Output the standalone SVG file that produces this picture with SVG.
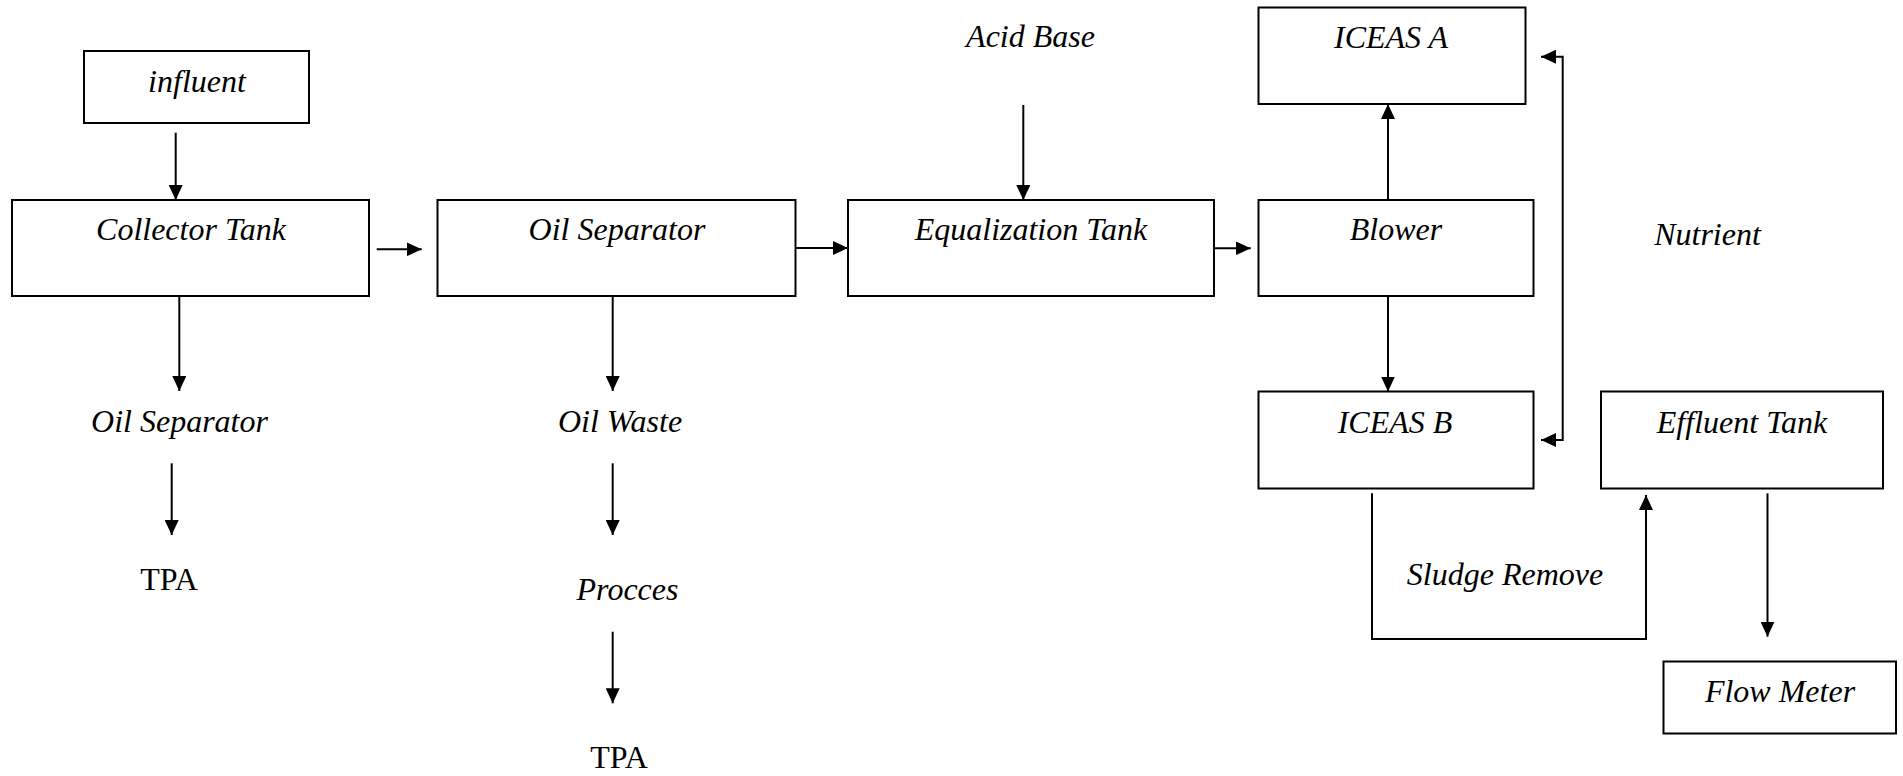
<svg xmlns="http://www.w3.org/2000/svg" width="1903" height="776" viewBox="0 0 1903 776">
  <style>
    .box { fill: #ffffff; stroke: #000000; stroke-width: 2; }
    .lbl { font-family: "Liberation Serif", "Times New Roman", serif; font-size: 32px; font-style: italic; fill: #000000; text-anchor: middle; }
    .plain { font-style: normal; }
    .wire { fill: none; stroke: #000000; stroke-width: 2; marker-end: url(#arrow); }
  </style>
  <defs>
    <marker id="arrow" viewBox="0 0 15 14" markerWidth="15" markerHeight="14" refX="15" refY="7" orient="auto-start-reverse" markerUnits="userSpaceOnUse">
      <path d="M0,0 L15,7 L0,14 z" fill="#000000"/>
    </marker>
  </defs>
  <rect width="1903" height="776" fill="#ffffff"/>

  <!-- process units -->
  <g id="influent">
    <rect class="box" x="84" y="51" width="225" height="72"/>
    <text class="lbl" x="197" y="91.5">influent</text>
  </g>
  <g id="collector-tank">
    <rect class="box" x="12" y="200" width="357" height="96"/>
    <text class="lbl" x="191" y="240">Collector Tank</text>
  </g>
  <g id="oil-separator">
    <rect class="box" x="437.5" y="200" width="358" height="96"/>
    <text class="lbl" x="617" y="240">Oil Separator</text>
  </g>
  <g id="equalization-tank">
    <rect class="box" x="848" y="200" width="366" height="96"/>
    <text class="lbl" x="1031" y="240">Equalization Tank</text>
  </g>
  <g id="blower">
    <rect class="box" x="1258.5" y="200" width="275" height="96"/>
    <text class="lbl" x="1396" y="240">Blower</text>
  </g>
  <g id="iceas-a">
    <rect class="box" x="1258.5" y="7.5" width="267" height="96.5"/>
    <text class="lbl" x="1391" y="48">ICEAS A</text>
  </g>
  <g id="iceas-b">
    <rect class="box" x="1258.5" y="391.5" width="275" height="97"/>
    <text class="lbl" x="1395" y="432.5">ICEAS B</text>
  </g>
  <g id="effluent-tank">
    <rect class="box" x="1601" y="391.5" width="282" height="97"/>
    <text class="lbl" x="1742" y="433">Effluent Tank</text>
  </g>
  <g id="flow-meter">
    <rect class="box" x="1663.5" y="661.5" width="232.5" height="72"/>
    <text class="lbl" x="1780" y="701.5">Flow Meter</text>
  </g>

  <!-- free-standing stream labels -->
  <g id="acid-base"><text class="lbl" x="1030.5" y="46.5">Acid Base</text></g>
  <g id="nutrient"><text class="lbl" x="1707.5" y="245">Nutrient</text></g>
  <g id="oil-separator-out"><text class="lbl" x="179.5" y="431.5">Oil Separator</text></g>
  <g id="tpa-1"><text class="lbl plain" x="169" y="590">TPA</text></g>
  <g id="oil-waste"><text class="lbl" x="620" y="431.5">Oil Waste</text></g>
  <g id="procces"><text class="lbl" x="627.5" y="600">Procces</text></g>
  <g id="tpa-2"><text class="lbl plain" x="619" y="767.5">TPA</text></g>
  <g id="sludge-remove"><text class="lbl" x="1505" y="585">Sludge Remove</text></g>

  <!-- connectors -->
  <g id="connectors">
    <path class="wire" d="M175.7,132.7 V200"/>
    <path class="wire" d="M376.7,249.3 H421.7"/>
    <path class="wire" d="M179.3,296 V391"/>
    <path class="wire" d="M171.7,463.3 V535"/>
    <path class="wire" d="M795.7,248 H848"/>
    <path class="wire" d="M612.7,296 V391"/>
    <path class="wire" d="M612.7,463.3 V535"/>
    <path class="wire" d="M612.7,631.7 V703.3"/>
    <path class="wire" d="M1023.3,105 V200"/>
    <path class="wire" d="M1213.7,248.3 H1250.7"/>
    <path class="wire" d="M1388,200 V104"/>
    <path class="wire" d="M1388,296 V391.5"/>
    <path class="wire" d="M1541,56.7 H1562.7 V440 H1541" marker-start="url(#arrow)"/>
    <path class="wire" d="M1372,493.3 V639 H1646 V495"/>
    <path class="wire" d="M1767.5,493.3 V636.7"/>
  </g>
</svg>
